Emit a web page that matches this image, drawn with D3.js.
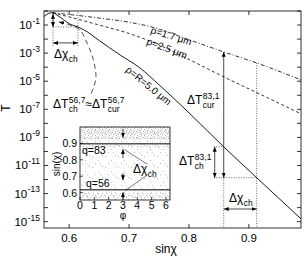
<!DOCTYPE html>
<html><head><meta charset="utf-8">
<script src="https://cdn.jsdelivr.net/npm/d3@7"></script>
<style>
body{margin:0;background:#fff}
svg{display:block;font-family:"Liberation Sans",Arial,Helvetica,sans-serif}
</style></head><body>
<svg id="chart" width="304" height="259"></svg>
<script>
// main curves, x = sin(chi), y = log10(T)
var chiR  = [0.558,0.565,0.572,0.58,0.59,0.60,0.615,0.625,0.65,0.685,0.718,0.75,0.80,0.858,0.913,0.987];
var logR  = [-0.4,-0.18,-0.12,-0.3,-0.6,-0.9,-1.14,-1.35,-2.1,-3.13,-4.05,-5.25,-7.25,-9.67,-11.87,-14.8];
var chi17 = [0.572,0.60,0.65,0.70,0.738,0.80,0.858,0.913,0.987];
var log17 = [-0.12,-0.25,-0.5,-0.8,-1.14,-2.05,-2.91,-3.70,-4.9];
var chi25 = [0.572,0.60,0.65,0.70,0.738,0.80,0.858,0.92,0.987];
var log25 = [-0.12,-0.42,-1.0,-1.6,-2.2,-3.45,-4.69,-5.95,-7.32];

// pointer from the 56,7 label up to the small arrow
var arcChi = [0.583,0.6013,0.618,0.6297,0.638,0.643,0.6447,0.6413,0.6347];
var arcLog = [-0.78,-1.0,-1.35,-2.27,-3.13,-3.98,-4.69,-5.40,-6.04];

var xTicks = [0.6,0.7,0.8,0.9];
var yTickExp = d3.range(0,-16,-1);
var yLabelExp = [-1,-3,-5,-7,-9,-11,-13,-15];

// channel marks
var chA = [0.573,0.6147], chB = [0.858,0.913];

// inset
var inXTicks = [0,1,2,3,4,5,6];
var inYTicks = [0.6,0.7,0.8,0.9];
var bandLo = [0.925,0.872,0.555];
var bandHi = [1.0,0.893,0.612];
var qName = ["q=83","q=56"];
var qSin  = [0.898,0.618];

var svg = d3.select("#chart");
var x = d3.scaleLinear().domain([0.558,0.987]).range([44,301]);
var y = d3.scaleLog().domain([Math.pow(10,-15.45),1]).range([228,11]);
var Y = function(l){ return y(Math.pow(10,l)); };

var defs = svg.append("defs");
defs.append("marker").attr("id","ah").attr("viewBox","0 0 6 6").attr("refX",6).attr("refY",3)
  .attr("markerWidth",5).attr("markerHeight",5).attr("markerUnits","userSpaceOnUse")
  .attr("orient","auto-start-reverse")
  .append("path").attr("d","M0,0.6L6,3L0,5.4Z").attr("fill","#000");

// dot textures for the scatter in the inset
function pat(id, w, h, pts, col){
  var p = defs.append("pattern").attr("id",id).attr("patternUnits","userSpaceOnUse").attr("width",w).attr("height",h);
  pts.forEach(function(d){ p.append("rect").attr("x",d[0]).attr("y",d[1]).attr("width",0.8).attr("height",0.8).attr("fill",col); });
}
pat("sparse",13,11,[[1,2],[7,6],[11,1],[4,9],[9,9.5]],"#999");
pat("medium",9,7,[[0,1],[3,4],[6,0.5],[2,6],[7,3.5],[5,6],[8.5,5]],"#8a8a8a");
pat("dense",7,6,[[0,0],[2.5,1],[1,2.5],[4,3],[6,1.5],[3,5],[5.5,4.5],[0.5,4.5],[4.5,0]],"#7a7a7a");

function rich(g, px, py, parts, o){
  o = o || {};
  var fs = o.fs || 12, fss = o.fss || 8.5;
  var t = g.append("g"), cx = 0;
  parts.forEach(function(p){
    var b = t.append("text").attr("x",cx).attr("y",0).attr("font-size",fs).text(p.t);
    cx += b.node().getComputedTextLength();
    var w = 0;
    if(p.sup){ var s = t.append("text").attr("x",cx+0.5).attr("y",-fs*0.45).attr("font-size",fss).text(p.sup); w = Math.max(w,s.node().getComputedTextLength()+0.5); }
    if(p.sub){ var s2 = t.append("text").attr("x",cx+0.5).attr("y",fs*0.3).attr("font-size",fss).text(p.sub); w = Math.max(w,s2.node().getComputedTextLength()+0.5); }
    cx += w;
  });
  var dx = o.anchor === "end" ? -cx : (o.anchor === "middle" ? -cx/2 : 0);
  t.attr("transform","translate("+(px+dx)+","+py+")");
  return t;
}

// frame and ticks
var g = svg.append("g");
g.append("rect").attr("x",44).attr("y",11).attr("width",257).attr("height",217)
  .attr("fill","none").attr("stroke","#000").attr("stroke-width",0.8);
xTicks.forEach(function(v){
  g.append("line").attr("x1",x(v)).attr("x2",x(v)).attr("y1",228).attr("y2",224).attr("stroke","#000").attr("stroke-width",0.8);
  g.append("line").attr("x1",x(v)).attr("x2",x(v)).attr("y1",11).attr("y2",15).attr("stroke","#000").attr("stroke-width",0.8);
  g.append("text").attr("x",x(v)).attr("y",242).attr("text-anchor","middle").attr("font-size",11.5).text(d3.format(".1f")(v));
});
yTickExp.forEach(function(e){
  g.append("line").attr("x1",44).attr("x2",48).attr("y1",Y(e)).attr("y2",Y(e)).attr("stroke","#000").attr("stroke-width",0.8);
  g.append("line").attr("x1",301).attr("x2",297).attr("y1",Y(e)).attr("y2",Y(e)).attr("stroke","#000").attr("stroke-width",0.8);
});
yLabelExp.forEach(function(e){
  rich(g, 40, Y(e)+4, [{t:"10",sup:String(e)}], {fs:11.5,fss:8.5,anchor:"end"});
});
g.append("text").attr("x",166).attr("y",253).attr("text-anchor","middle").attr("font-size",12).text("sin\u03c7");
g.append("text").attr("transform","translate(10,108) rotate(-90)").attr("text-anchor","middle").attr("font-size",12).text("T");

// curves
var line = d3.line().x(function(d){return x(d[0]);}).y(function(d){return Y(d[1]);}).curve(d3.curveMonotoneX);
defs.append("clipPath").attr("id","pc").append("rect").attr("x",44).attr("y",11).attr("width",257).attr("height",217);
var cg = svg.append("g").attr("clip-path","url(#pc)");
cg.append("path").attr("d",line(d3.zip(chiR,logR))).attr("fill","none").attr("stroke","#000").attr("stroke-width",0.9);
cg.append("path").attr("d",line(d3.zip(chi17,log17))).attr("fill","none").attr("stroke","#000").attr("stroke-width",0.8).attr("stroke-dasharray","4,2,1,2");
cg.append("path").attr("d",line(d3.zip(chi25,log25))).attr("fill","none").attr("stroke","#000").attr("stroke-width",0.8).attr("stroke-dasharray","3,2.5");

function interp(xs, ls, v){ return d3.scaleLinear().domain(xs).range(ls)(v); }

// annotations
var a = svg.append("g").attr("stroke","#000").attr("fill","none");
function seg(x1,y1,x2,y2,cls){
  var l = a.append("line").attr("x1",x1).attr("y1",y1).attr("x2",x2).attr("y2",y2);
  if(cls==="dot") l.attr("stroke-width",0.6).attr("stroke-dasharray","1,1.5");
  else l.attr("stroke-width",0.7);
  if(cls==="arr") l.attr("marker-start","url(#ah)").attr("marker-end","url(#ah)");
  return l;
}
// left channel (q=56)
var tA2 = interp(chiR,logR,chA[1]);
seg(x(chA[0]),Y(-0.1),x(chA[0]),Y(-2.5),"dot");
seg(x(chA[1]),Y(-0.1),x(chA[1]),Y(-2.5),"dot");
seg(x(chA[0]),Y(tA2),x(chA[1]),Y(tA2),"dot");
seg(x(chA[0]),Y(-0.2),x(chA[0]),Y(tA2),"arr");
seg(x(chA[0]),Y(-2.27),x(chA[1]),Y(-2.27),"arr");
var arcLine = d3.line().x(function(d){return x(d[0]);}).y(function(d){return Y(d[1]);}).curve(d3.curveCatmullRom);
a.append("path").attr("d",arcLine(d3.zip(arcChi,arcLog))).attr("stroke-width",0.7).attr("stroke-dasharray","5,3.5")
  .attr("marker-start","url(#ah)");

// right channel (q=83)
var tB1 = interp(chiR,logR,chB[0]), tB2 = interp(chiR,logR,chB[1]);
var cB1 = interp(chi17,log17,chB[0]), cB2 = interp(chi17,log17,chB[1]);
var xAr = x.invert(x(chB[0])-9);
seg(x(chB[0]),Y(cB1),x(chB[0]),Y(tB2),"arr");
seg(x(chB[0]),Y(tB2),x(chB[0]),228,"dot");
seg(x(chB[1]),Y(cB2),x(chB[1]),228,"dot");
seg(x(xAr)-1,Y(tB1),x(chB[0]),Y(tB1),"dot");
seg(x(xAr)-1,Y(tB2),x(chB[1]),Y(tB2),"dot");
seg(x(xAr),Y(tB1),x(xAr),Y(tB2),"arr");
seg(x(chB[0]),209,x(chB[1]),209,"arr");

// text labels
var t = svg.append("g");
rich(t, 54, 58, [{t:"\u0394\u03c7",sub:"ch"}]);
rich(t, 53, 108, [{t:"\u0394T",sub:"ch",sup:"56,7"},{t:"\u2248"},{t:"\u0394T",sub:"cur",sup:"56,7"}]);
rich(t, 187, 104, [{t:"\u0394T",sub:"cur",sup:"83,1"}]);
rich(t, 179, 165, [{t:"\u0394T",sub:"ch",sup:"83,1"}]);
rich(t, 229, 202, [{t:"\u0394\u03c7",sub:"ch"}]);
t.append("text").attr("transform","translate(150,33) rotate(17)").attr("font-size",10).text("\u03c1=1.7 \u03bcm");
t.append("text").attr("transform","translate(146,44) rotate(21)").attr("font-size",10).text("\u03c1=2.5 \u03bcm");
t.append("text").attr("transform","translate(125,71) rotate(39)").attr("font-size",10).text("\u03c1=R=5.0 \u03bcm");

// inset
var ix = d3.scaleLinear().domain([0,2*Math.PI]).range([80,170]);
var iy = d3.scaleLinear().domain([0.555,1.0]).range([200,127]);
var ig = svg.append("g");
ig.append("rect").attr("x",80).attr("y",127).attr("width",90).attr("height",73).attr("fill","#fff");
ig.append("rect").attr("x",80).attr("y",127).attr("width",90).attr("height",73).attr("fill","url(#sparse)");
var bandFill = ["url(#dense)","url(#medium)","url(#medium)"];
bandLo.forEach(function(lo,i){
  ig.append("rect").attr("x",80).attr("width",90).attr("y",iy(bandHi[i])).attr("height",iy(lo)-iy(bandHi[i])).attr("fill",bandFill[i]);
});
qSin.forEach(function(v){
  ig.append("line").attr("x1",80).attr("x2",170).attr("y1",iy(v)).attr("y2",iy(v)).attr("stroke","#555").attr("stroke-width",1.5);
});
ig.append("rect").attr("x",80).attr("y",127).attr("width",90).attr("height",73).attr("fill","none").attr("stroke","#000").attr("stroke-width",0.8);
inXTicks.forEach(function(v){
  ig.append("line").attr("x1",ix(v)).attr("x2",ix(v)).attr("y1",200).attr("y2",197).attr("stroke","#000").attr("stroke-width",0.7);
  ig.append("text").attr("x",ix(v)).attr("y",209).attr("text-anchor","middle").attr("font-size",10.5).text(v);
});
inYTicks.forEach(function(v){
  ig.append("line").attr("x1",80).attr("x2",83).attr("y1",iy(v)).attr("y2",iy(v)).attr("stroke","#000").attr("stroke-width",0.7);
  ig.append("text").attr("x",77).attr("y",iy(v)+4).attr("text-anchor","end").attr("font-size",10.5).text(d3.format(".1f")(v));
});
ig.append("text").attr("x",ix(3)).attr("y",219).attr("text-anchor","middle").attr("font-size",10).text("\u03c6");
ig.append("text").attr("transform","translate(60,164) rotate(-90)").attr("text-anchor","middle").attr("font-size",10).text("sin(\u03c7)");
ig.append("text").attr("x",82).attr("y",iy(qSin[0])+10).attr("font-size",10.5).text(qName[0]);
ig.append("text").attr("x",86).attr("y",iy(qSin[1])-3).attr("font-size",10.5).text(qName[1]);
// width arrows at phi=3
var ia = ig.append("g").attr("stroke","#000").attr("fill","none").attr("stroke-width",0.7);
[[0.99,0.935],[0.81,0.865],[0.72,0.675],[0.56,0.603]].forEach(function(d){
  ia.append("line").attr("x1",ix(3)).attr("x2",ix(3)).attr("y1",iy(d[0])).attr("y2",iy(d[1])).attr("marker-end","url(#ah)");
});
ia.append("line").attr("x1",ix(3)+2).attr("y1",iy(0.86)).attr("x2",147).attr("y2",164).attr("stroke-width",0.5);
ia.append("line").attr("x1",ix(3)+2).attr("y1",iy(0.6)-2).attr("x2",146).attr("y2",176).attr("stroke-width",0.5);
rich(ig, 133, 173, [{t:"\u0394\u03c7",sub:"ch"}]);
</script>
</body></html>
